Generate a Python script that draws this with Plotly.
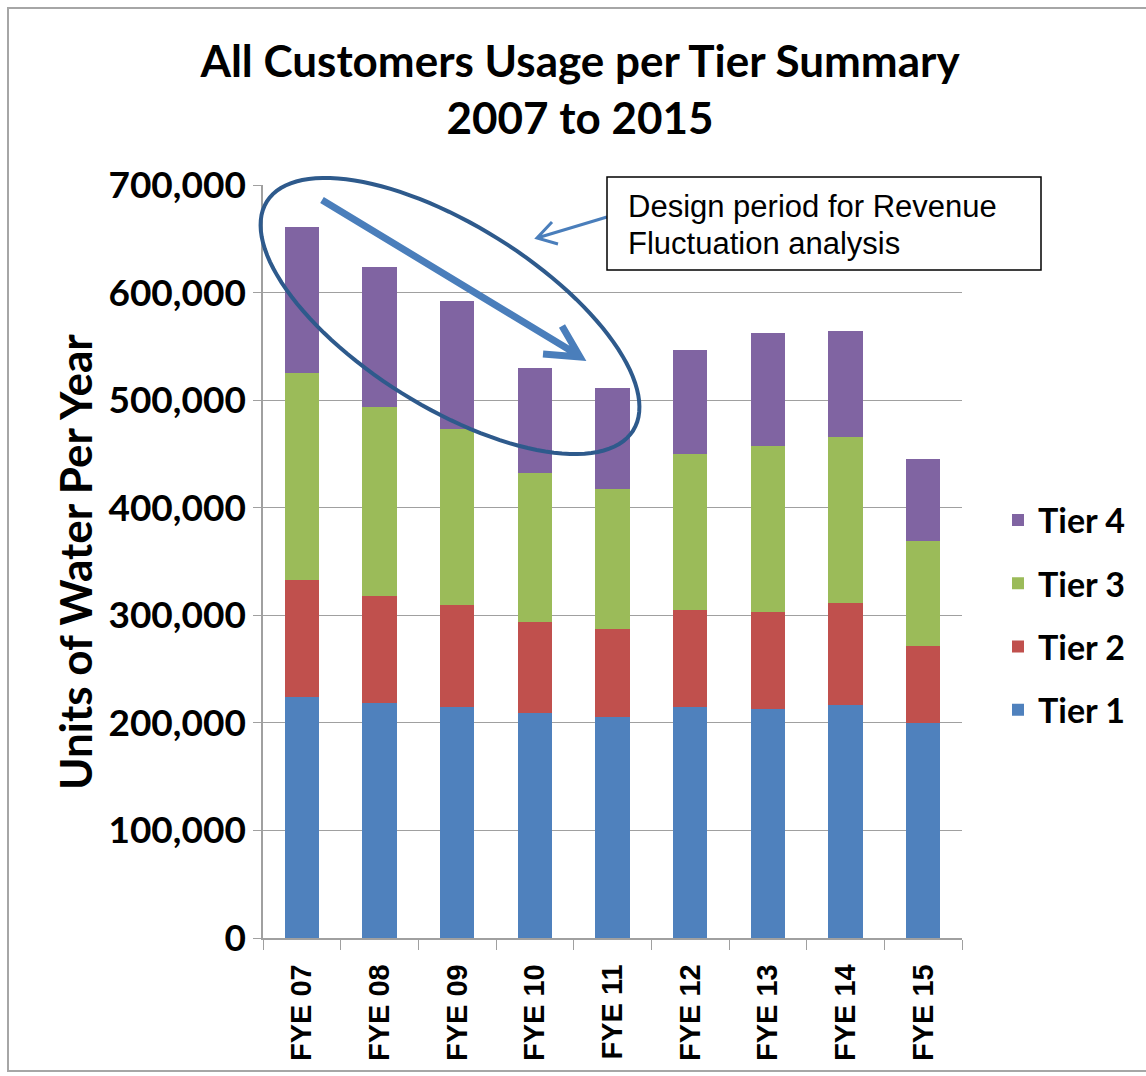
import math
import plotly.graph_objects as go

categories = ["FYE 07", "FYE 08", "FYE 09", "FYE 10", "FYE 11", "FYE 12", "FYE 13", "FYE 14", "FYE 15"]
tier1 = [224000, 218000, 215000, 209000, 205000, 215000, 213000, 217000, 200000]
tier2 = [109000, 100000, 95000, 85000, 82000, 90000, 90000, 94000, 71000]
tier3 = [192000, 176000, 163000, 138000, 130000, 145000, 154000, 155000, 98000]
tier4 = [136000, 130000, 119000, 98000, 94000, 97000, 105000, 98000, 76000]
tier_names = ["Tier 1", "Tier 2", "Tier 3", "Tier 4"]
tier_colors = ["#4F81BD", "#C0504D", "#9BBB59", "#8064A2"]
y_ticks = [0, 100000, 200000, 300000, 400000, 500000, 600000, 700000]

W, H = 1146, 1076
L, R, T, B = 263, 962, 185, 938


def px(x):
    return (x - L) / (R - L)


def py(y):
    return (B - y) / (B - T)


fig = go.Figure()
for i, (name, vals, col) in enumerate(zip(tier_names, [tier1, tier2, tier3, tier4], tier_colors)):
    fig.add_trace(go.Bar(x=categories, y=vals, name=name, marker=dict(color=col, line=dict(width=0)),
                         legendgroup=name, legendrank=100 - i))

# ellipse (decorative)
cx, cy, a, b, th = 450, 316, 216, 91, math.radians(32)
pts = []
for i in range(121):
    t = 2 * math.pi * i / 120
    x = cx + a * math.cos(t) * math.cos(th) - b * math.sin(t) * math.sin(th)
    y = cy + a * math.cos(t) * math.sin(th) + b * math.sin(t) * math.cos(th)
    pts.append((px(x), py(y)))
ell = "M " + " L ".join(f"{x:.5f},{y:.5f}" for x, y in pts) + " Z"

big_arrow = (f"M {px(322):.5f},{py(200):.5f} L {px(578):.5f},{py(355):.5f} "
             f"M {px(562):.5f},{py(326):.5f} L {px(580):.5f},{py(357):.5f} L {px(543):.5f},{py(354):.5f}")
small_arrow = (f"M {px(607):.5f},{py(217):.5f} L {px(537):.5f},{py(238):.5f} "
               f"M {px(552):.5f},{py(222):.5f} L {px(537):.5f},{py(238):.5f} L {px(558):.5f},{py(244):.5f}")

shapes = [
    dict(type="path", xref="paper", yref="paper", path=ell, line=dict(color="#2E5A8C", width=4)),
    dict(type="path", xref="paper", yref="paper", path=big_arrow, line=dict(color="#4A7EBB", width=7)),
    dict(type="path", xref="paper", yref="paper", path=small_arrow, line=dict(color="#4A7EBB", width=3)),
    dict(type="rect", xref="paper", yref="paper", x0=px(607), x1=px(1041), y0=py(177), y1=py(270),
         line=dict(color="black", width=1.5), fillcolor="white"),
    dict(type="rect", xref="paper", yref="paper", x0=px(8), x1=px(1160), y0=py(8), y1=py(1071),
         line=dict(color="#A6A6A6", width=2), fillcolor="rgba(0,0,0,0)", layer="below"),
]

box_font = dict(family="Liberation Sans, Arial", size=31, color="black")
annotations = [
    dict(xref="paper", yref="paper", x=px(626), y=py(207), xanchor="left", yanchor="middle",
         text="Design period for Revenue", showarrow=False, font=box_font),
    dict(xref="paper", yref="paper", x=px(626), y=py(243), xanchor="left", yanchor="middle",
         text="Fluctuation analysis", showarrow=False, font=box_font),
    dict(xref="paper", yref="paper", x=px(75), y=py(562), xanchor="center", yanchor="middle",
         text="Units of Water Per Year", textangle=-90, showarrow=False,
         font=dict(family="Lato", size=44, color="black", weight="bold")),
]

fig.update_layout(
    width=W, height=H,
    margin=dict(l=L, r=W - R, t=T, b=H - B, autoexpand=False),
    paper_bgcolor="white", plot_bgcolor="white",
    barmode="stack", bargap=0.56,
    title=dict(text="All Customers Usage per Tier Summary<br>2007 to 2015",
               x=580 / W, xref="container", xanchor="center",
               y=1 - 77 / H, yref="container", yanchor="middle",
               font=dict(family="Lato", size=44, color="black", weight="bold")),
    xaxis=dict(type="category", showline=True, linecolor="#A0A0A0", linewidth=1.5,
               ticks="outside", tickson="boundaries", ticklen=10, tickcolor="#A0A0A0",
               tickangle=-90, showgrid=False, ticklabelstandoff=13,
               tickfont=dict(family="Liberation Sans, Arial", size=29, color="black", weight="bold")),
    yaxis=dict(range=[0, 700000], tickvals=y_ticks, tickformat=",", showline=True,
               linecolor="#A0A0A0", linewidth=1.5, ticks="outside", ticklen=8, tickcolor="#A0A0A0",
               showgrid=True, gridcolor="#A0A0A0", gridwidth=1.2, zeroline=False,
               tickfont=dict(family="Lato", size=37, color="black", weight="bold")),
    legend=dict(x=px(998), y=py(615), xanchor="left", yanchor="middle",
                traceorder="grouped", tracegroupgap=16,
                font=dict(family="Lato", size=34, color="black", weight="bold"),
                bgcolor="rgba(0,0,0,0)"),
    shapes=shapes, annotations=annotations,
)

fig.write_html("out.html", config={"displayModeBar": False},
               post_script="document.body.style.margin='0';")
